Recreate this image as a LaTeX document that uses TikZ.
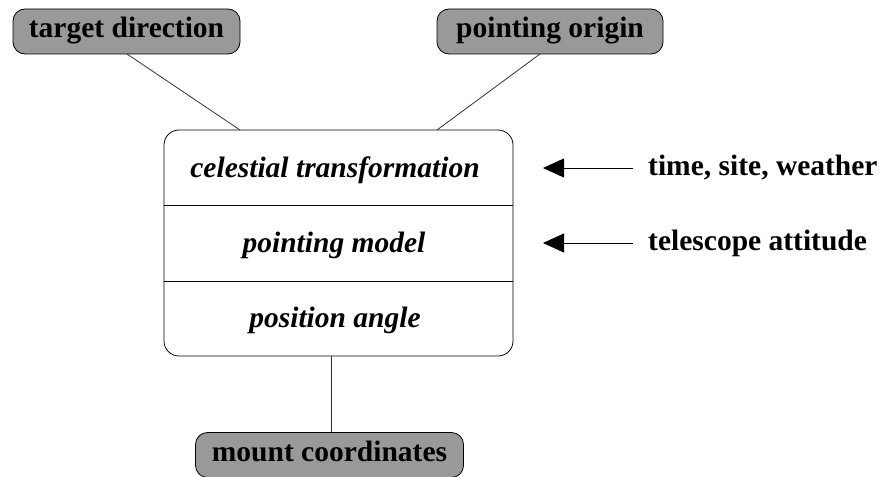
\documentclass[tikz,border=0pt]{standalone}
\usepackage{fontspec}
\setmainfont{Liberation Serif}
\usetikzlibrary{arrows.meta}
\definecolor{boxgray}{HTML}{999999}
\newcommand{\diagsize}{\fontsize{29.5}{34}\selectfont}
\tikzset{
  term/.style={draw=black, line width=0.8pt, fill=boxgray, rounded corners=12pt, font=\diagsize\bfseries, inner sep=0pt, text height=20pt, text depth=8pt},
  stage/.style={font=\diagsize\bfseries\itshape, inner sep=0pt, anchor=base},
  input/.style={font=\diagsize\bfseries, inner sep=0pt, anchor=base west},
  conn/.style={draw=black!80, line width=0.8pt},
  feed/.style={draw=black, line width=0.8pt, -{Triangle[length=21pt,width=19pt]}}
}
\begin{document}
\begin{tikzpicture}[x=1pt,y=-1pt]
\useasboundingbox (0,0) rectangle (885,476);
% terminals
\node[term, minimum width=227pt, minimum height=45pt] (target) at (126.5,31.5) {target direction};
\node[term, minimum width=226pt, minimum height=45pt] (origin) at (550,31.5) {pointing origin};
\node[term, minimum width=268pt, minimum height=45pt] (mount) at (329.5,455) {mount coordinates};
% main box
\node[draw=black, line width=0.8pt, rounded corners=15pt, minimum width=349pt, minimum height=226pt, inner sep=0pt] (main) at (338.5,243) {};
\coordinate (d1l) at (164,205.5);
\coordinate (d1r) at (513,205.5);
\coordinate (d2l) at (164,281);
\coordinate (d2r) at (513,281);
\draw[line width=0.8pt] (d1l) -- (d1r);
\draw[line width=0.8pt] (d2l) -- (d2r);
\node[stage] (cel) at (335,177) {celestial transformation};
\node[stage] (pm) at (334,252) {pointing model};
\node[stage] (pa) at (335,327) {position angle};
% connectors
\coordinate (mtl) at (240,130);
\coordinate (mtr) at (437,130);
\coordinate (mb) at (331,356);
\coordinate (tl) at (127,54);
\coordinate (tr) at (540,54);
\path[conn] (tl) -- (mtl);
\path[conn] (tr) -- (mtr);
\path[conn] (mb) -- (mb |- mount.north);
% inputs
\node[input] (tsw) at (648,175) {time, site, weather};
\node[input] (tel) at (648,250) {telescope attitude};
\coordinate (a1) at (543,168);
\coordinate (a2) at (543,243);
\draw[feed] (a1 -| 633,0) -- (a1);
\draw[feed] (a2 -| 633,0) -- (a2);
\end{tikzpicture}
\end{document}
